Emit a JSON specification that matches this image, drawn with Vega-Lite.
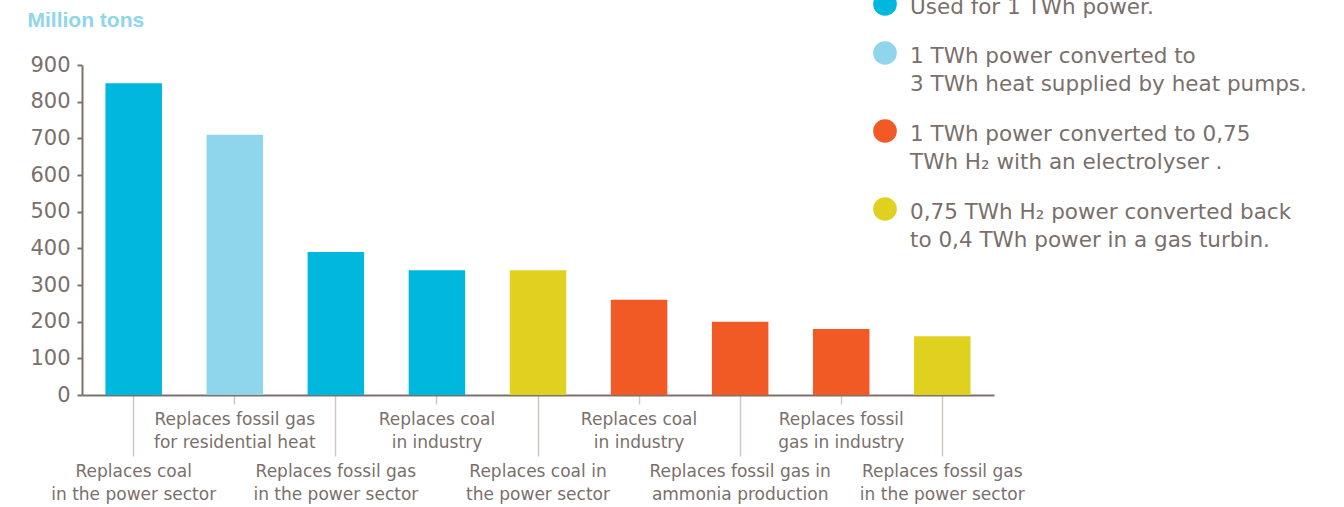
{
  "$schema": "https://vega.github.io/schema/vega-lite/v6.json",
  "autosize": {"type": "none"},
  "width": 912,
  "height": 330,
  "padding": {"left": 82, "top": 65, "right": 350, "bottom": 112},
  "background": "white",
  "data": {
    "values": [
      {"key": "1|Replaces coal|in the power sector", "value": 850, "type": "Used for 1 TWh power."},
      {"key": "2|Replaces fossil gas|for residential heat", "value": 710, "type": "1 TWh power converted to|3 TWh heat supplied by heat pumps."},
      {"key": "3|Replaces fossil gas|in the power sector", "value": 390, "type": "Used for 1 TWh power."},
      {"key": "4|Replaces coal|in industry", "value": 340, "type": "Used for 1 TWh power."},
      {"key": "5|Replaces coal in|the power sector", "value": 340, "type": "0,75 TWh H₂ power converted back|to 0,4 TWh power in a gas turbin."},
      {"key": "6|Replaces coal|in industry", "value": 260, "type": "1 TWh power converted to 0,75|TWh H₂ with an electrolyser ."},
      {"key": "7|Replaces fossil gas in|ammonia production", "value": 200, "type": "1 TWh power converted to 0,75|TWh H₂ with an electrolyser ."},
      {"key": "8|Replaces fossil|gas in industry", "value": 180, "type": "1 TWh power converted to 0,75|TWh H₂ with an electrolyser ."},
      {"key": "9|Replaces fossil gas|in the power sector", "value": 160, "type": "0,75 TWh H₂ power converted back|to 0,4 TWh power in a gas turbin."}
    ]
  },
  "mark": {"type": "bar"},
  "encoding": {
    "x": {
      "field": "key",
      "type": "nominal",
      "sort": null,
      "scale": {"paddingInner": 0.441, "paddingOuter": 0.232},
      "axis": {
        "title": null,
        "labelAngle": 0,
        "domainColor": "#7d716d",
        "domainWidth": 2,
        "tickColor": "#cfc8c5",
        "tickWidth": 1.5,
        "tickSize": {"condition": {"test": "parseInt(split(datum.value, '|')[0]) % 2 == 1", "value": 61}, "value": 9},
        "labelExpr": "slice(split(datum.label, '|'), 1)",
        "labelPadding": 14.5,
        "labelFont": "DejaVu Sans",
        "labelFontSize": 17,
        "labelColor": "#7a6f6b",
        "labelLineHeight": 23.5,
        "labelOverlap": false,
        "labelBound": false,
        "labelLimit": 400
      }
    },
    "y": {
      "field": "value",
      "type": "quantitative",
      "scale": {"domain": [0, 900], "nice": false},
      "axis": {
        "title": "Million tons",
        "titleAngle": 0,
        "titleX": -55,
        "titleY": -45,
        "titleAlign": "left",
        "titleBaseline": "middle",
        "titleColor": "#8fd6ec",
        "titleFont": "Liberation Sans",
        "titleFontSize": 21,
        "titleFontWeight": "bold",
        "grid": false,
        "values": [0, 100, 200, 300, 400, 500, 600, 700, 800, 900],
        "domainColor": "#7d716d",
        "domainWidth": 2,
        "tickColor": "#7d716d",
        "tickWidth": 2,
        "tickSize": 5,
        "labelFont": "DejaVu Sans",
        "labelFontSize": 21,
        "labelColor": "#7a6f6b",
        "labelPadding": 7,
        "labelOffset": 7.5
      }
    },
    "color": {
      "field": "type",
      "type": "nominal",
      "scale": {
        "domain": [
          "Used for 1 TWh power.",
          "1 TWh power converted to|3 TWh heat supplied by heat pumps.",
          "1 TWh power converted to 0,75|TWh H₂ with an electrolyser .",
          "0,75 TWh H₂ power converted back|to 0,4 TWh power in a gas turbin."
        ],
        "range": ["#00b7dd", "#8fd6ec", "#f15a24", "#e0d120"]
      },
      "legend": {
        "title": null,
        "orient": "none",
        "legendX": 791,
        "legendY": -73,
        "padding": 0,
        "symbolType": "circle",
        "symbolSize": 560,
        "symbolStrokeWidth": 0,
        "symbolOpacity": 1,
        "labelExpr": "split(datum.label, '|')",
        "labelFont": "DejaVu Sans",
        "labelFontSize": 21.5,
        "labelColor": "#7a6f6b",
        "labelOffset": 13,
        "labelLimit": 600,
        "labelBaseline": "top",
        "rowPadding": 23
      }
    }
  },
  "config": {
    "view": {"stroke": null},
    "style": {"guide-label": {"lineHeight": 28.5, "dy": -7.5}}
  }
}
